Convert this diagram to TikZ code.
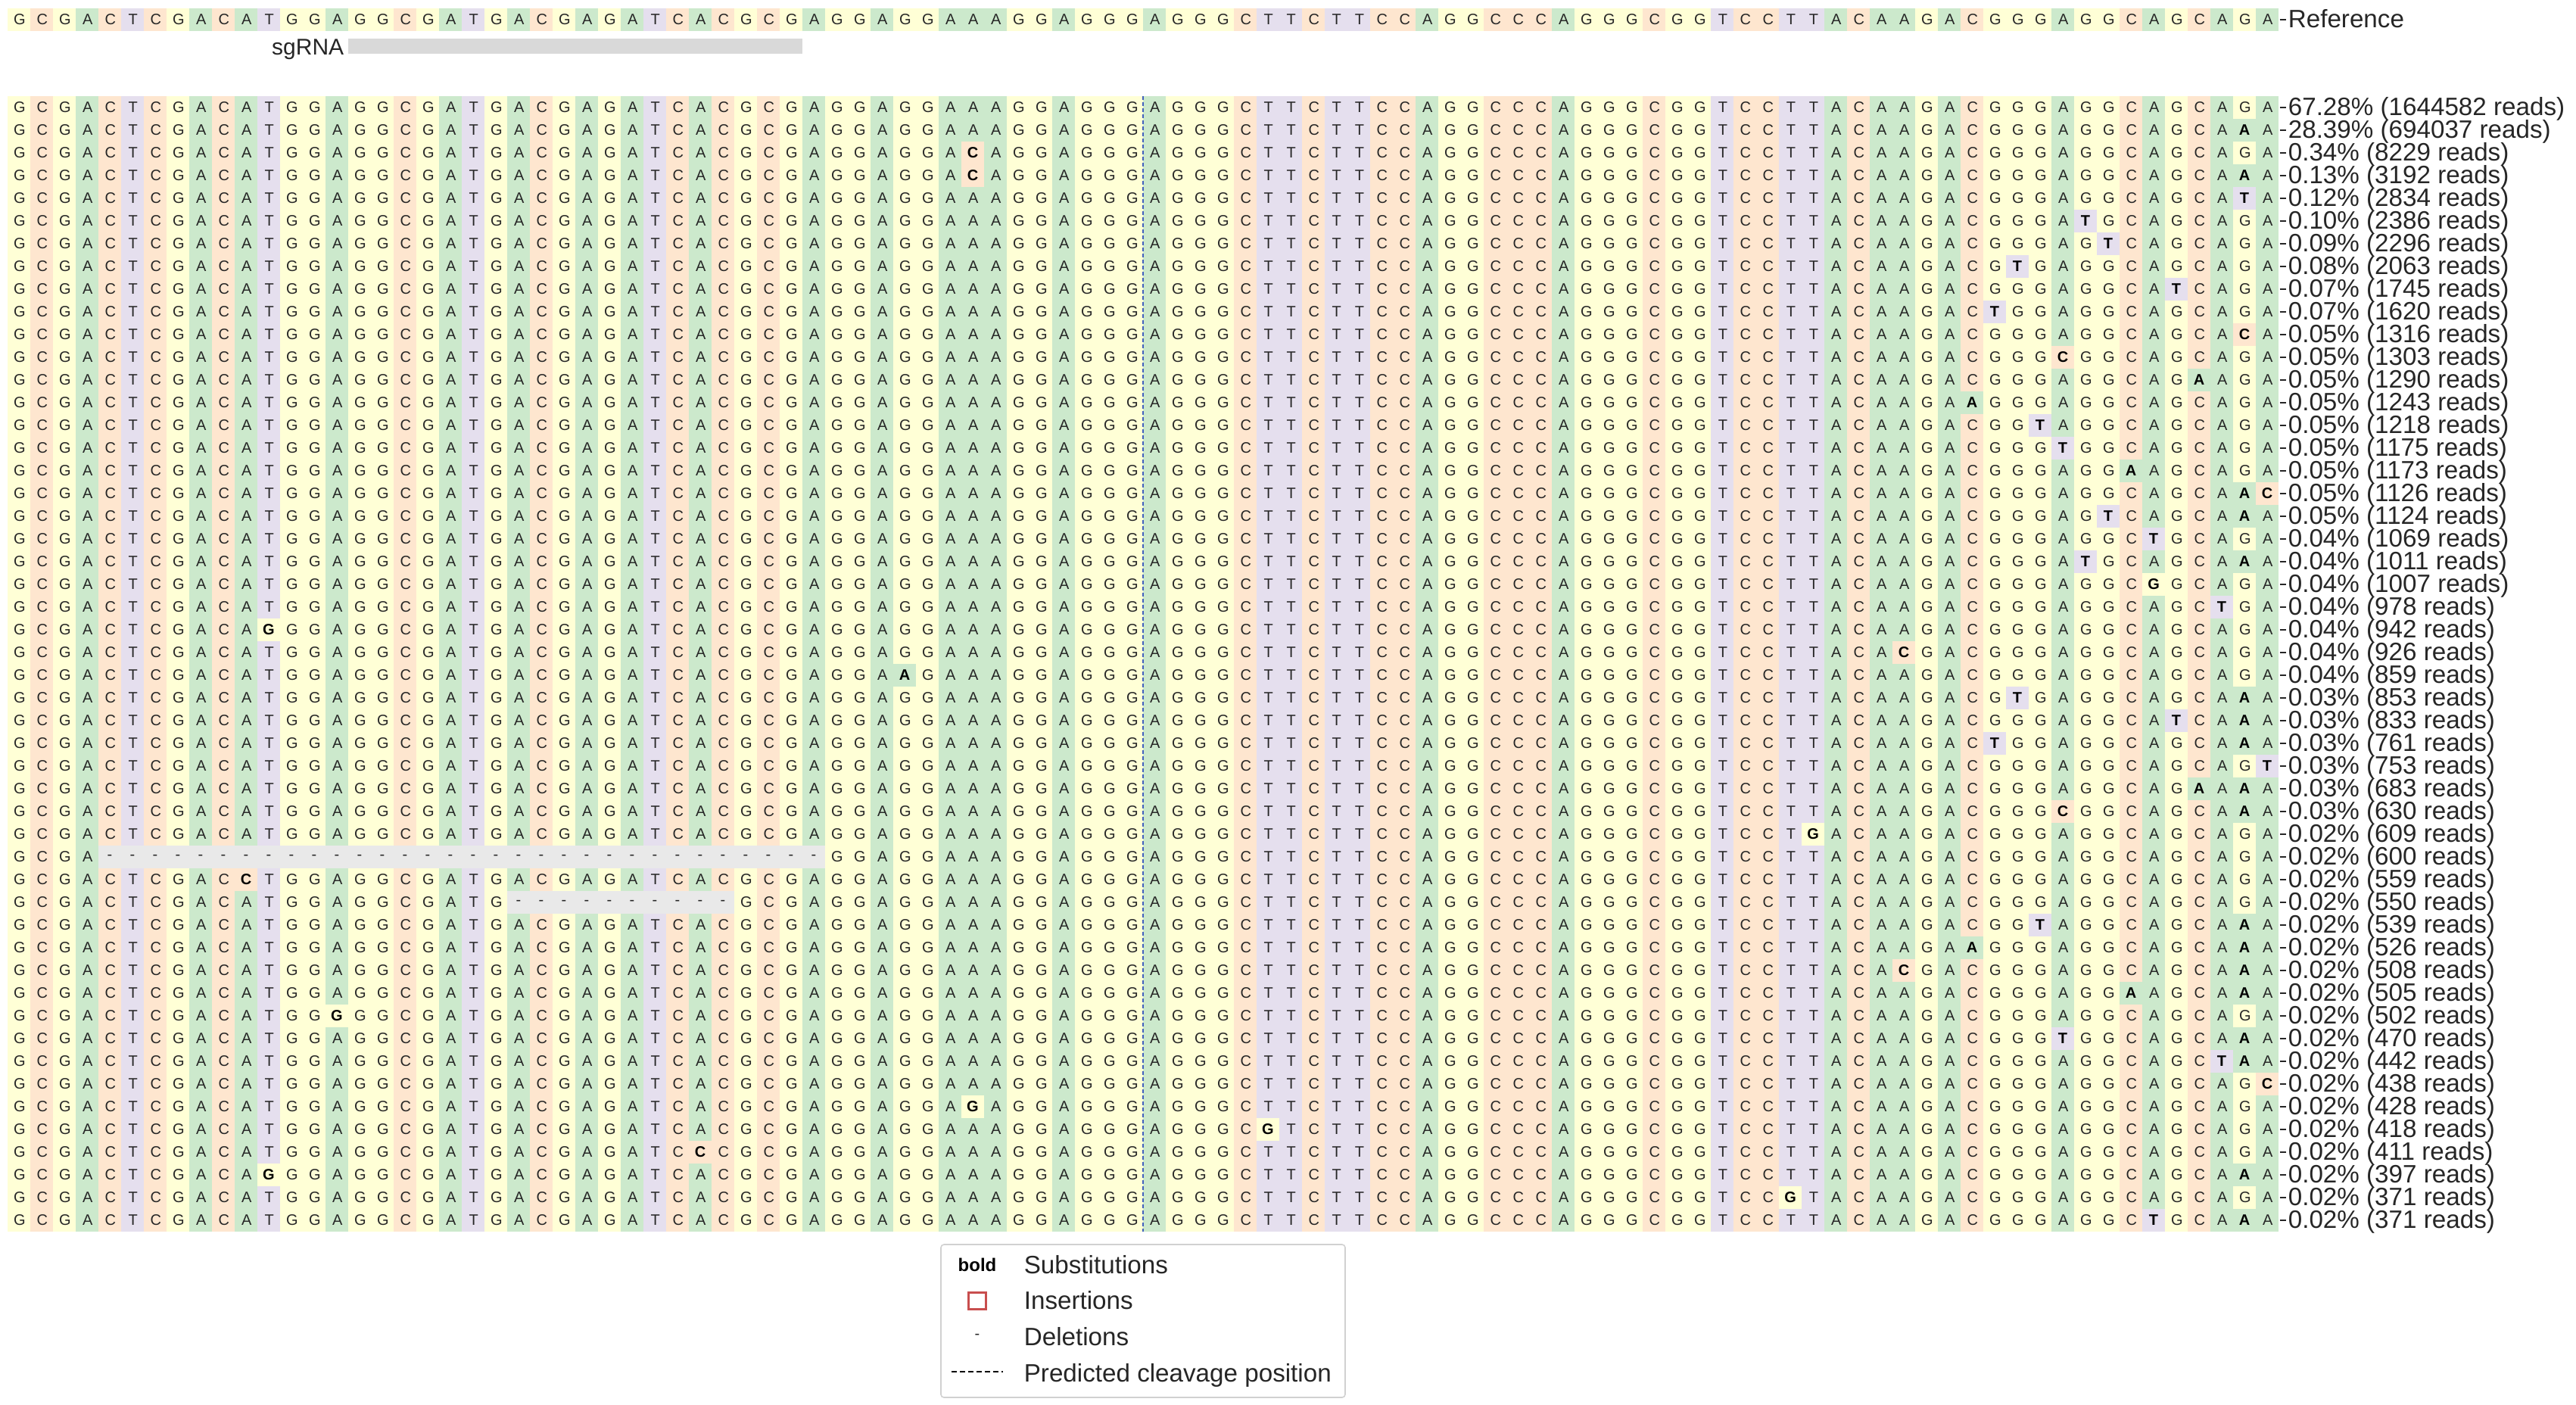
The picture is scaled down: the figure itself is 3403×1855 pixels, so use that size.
\documentclass[tikz,border=0pt]{standalone}
\usepackage{fontspec}
\setmainfont{Liberation Sans}
\usepackage{tikz}

\definecolor{ntA}{RGB}{204,233,204}
\definecolor{ntC}{RGB}{254,230,207}
\definecolor{ntG}{RGB}{255,255,214}
\definecolor{ntT}{RGB}{229,223,238}
\definecolor{ntgap}{RGB}{233,233,233}
\definecolor{sgbar}{RGB}{217,217,217}
\definecolor{cutblue}{RGB}{66,96,190}
\definecolor{insred}{RGB}{200,78,78}
\definecolor{ink}{RGB}{38,38,38}

\newcommand{\ntfont}{\fontsize{5pt}{6pt}\selectfont}
\newcommand{\labfont}{\fontsize{8.3pt}{10pt}\selectfont}
\newcommand{\ntcell}[1]{\makebox[7.5pt][c]{#1}}
\def\ntspread#1{\ifx#1\relax\else\ntcell{#1}\expandafter\ntspread\fi}

\def\refseq{G,C,G,A,C,T,C,G,A,C,A,T,G,G,A,G,G,C,G,A,T,G,A,C,G,A,G,A,T,C,A,C,G,C,G,A,G,G,A,G,G,A,A,A,G,G,A,G,G,G,A,G,G,G,C,T,T,C,T,T,C,C,A,G,G,C,C,C,A,G,G,G,C,G,G,T,C,C,T,T,A,C,A,A,G,A,C,G,G,G,A,G,G,C,A,G,C,A,G,A}
\def\refstr{}
\foreach \nt in \refseq {\xdef\refstr{\refstr\nt}}

\begin{document}
\begin{tikzpicture}[x=0.25pt, y=-0.25pt,
  seqrow/.style={anchor = west, inner sep=0pt, font=\ntfont, text=ink},
  ntletter/.style={inner sep=0pt, font=\ntfont, text=ink},
  subst/.style={inner sep=0pt, font=\ntfont\bfseries, text=black},
  tickmark/.style={ink, line width=0.5pt},
  readlabel/.style={anchor = base west, inner sep=0pt, font=\labfont, text=ink},
  cutline/.style={cutblue, line width=0.6pt, dash pattern=on 1.25pt off 0.75pt},
  legendbox/.style={draw=black!18, fill=white, line width=0.4pt, rounded corners=1pt}]
\useasboundingbox (0,0) rectangle (3403,1855);

% colour columns
\foreach \nt [count=\i] in \refseq {
  \fill[fill=nt\nt] ({30*\i-20},11) rectangle ++(30,30);
  \fill[fill=nt\nt] ({30*\i-20},127) rectangle ++(30,1500);
}

% sgRNA
\fill[sgbar] (460,51) rectangle (1060,71);
\node[anchor = base east, inner sep=0pt, font=\fontsize{7.5pt}{9pt}\selectfont, text=ink] (sglabel) at (455,72) {sgRNA};

% sequences
\node[seqrow] (ref) at (10,26) {\expandafter\ntspread\refstr\relax};
\draw[tickmark] (ref.east) -- ++(8,0);
\node[readlabel] (reflabel) at (3022,36) {Reference};
\foreach \r/\pct/\reads in {1/67.28/1644582, 2/28.39/694037, 3/0.34/8229, 4/0.13/3192,
    5/0.12/2834, 6/0.10/2386, 7/0.09/2296, 8/0.08/2063, 9/0.07/1745, 10/0.07/1620,
    11/0.05/1316, 12/0.05/1303, 13/0.05/1290, 14/0.05/1243, 15/0.05/1218, 16/0.05/1175,
    17/0.05/1173, 18/0.05/1126, 19/0.05/1124, 20/0.04/1069, 21/0.04/1011, 22/0.04/1007,
    23/0.04/978, 24/0.04/942, 25/0.04/926, 26/0.04/859, 27/0.03/853, 28/0.03/833,
    29/0.03/761, 30/0.03/753, 31/0.03/683, 32/0.03/630, 33/0.02/609, 34/0.02/600,
    35/0.02/559, 36/0.02/550, 37/0.02/539, 38/0.02/526, 39/0.02/508, 40/0.02/505,
    41/0.02/502, 42/0.02/470, 43/0.02/442, 44/0.02/438, 45/0.02/428, 46/0.02/418,
    47/0.02/411, 48/0.02/397, 49/0.02/371, 50/0.02/371} {
  \node[seqrow] (row\r) at (10,{112+30*\r}) {\expandafter\ntspread\refstr\relax};
  \draw[tickmark] (row\r.east) -- ++(8,0);
  \node[readlabel] (lab\r) at (3022,{122+30*\r}) {\pct\% (\reads{} reads)};
}

% deleted bases
\fill[ntgap] (130,1117) rectangle (1090,1147);
\fill[ntgap] (670,1177) rectangle (970,1207);
\foreach \p in {5,...,36}
  \node[ntletter] (del34-\p) at ({30*\p-5},1132) {-};
\foreach \p in {23,...,32}
  \node[ntletter] (del36-\p) at ({30*\p-5},1192) {-};

% substitutions
\foreach \r/\p/\nt in {2/99/A, 3/43/C, 4/43/C, 4/99/A, 5/99/T, 6/92/T, 7/93/T, 8/89/T,
    9/96/T, 10/88/T, 11/99/C, 12/91/C, 13/97/A, 14/87/A, 15/90/T, 16/91/T, 17/94/A,
    18/99/A, 18/100/C, 19/93/T, 19/99/A, 20/95/T, 21/92/T, 21/99/A, 22/95/G, 23/98/T,
    24/12/G, 25/84/C, 26/40/A, 27/89/T, 27/99/A, 28/96/T, 28/99/A, 29/88/T, 29/99/A,
    30/100/T, 31/97/A, 31/99/A, 32/91/C, 32/99/A, 33/80/G, 35/11/C, 37/90/T, 37/99/A,
    38/87/A, 38/99/A, 39/84/C, 39/99/A, 40/94/A, 40/99/A, 41/15/G, 42/91/T, 42/99/A,
    43/98/T, 43/99/A, 44/100/C, 45/43/G, 46/56/G, 47/31/C, 48/12/G, 48/99/A, 49/79/G,
    50/95/T, 50/99/A} {
  \fill[fill=nt\nt] ({30*\p-20},{97+30*\r}) rectangle ++(30,30);
  \node[subst] (sub\r-\p) at ({30*\p-5},{112+30*\r}) {\nt};
}

% cleavage position
\draw[cutline] (1510,127) -- (1510,1627);

% legend
\draw[legendbox] (1243,1644) rectangle (1777,1846);
\node[inner sep=0pt, font=\fontsize{6pt}{7pt}\selectfont\bfseries, text=black] (lgbold) at (1291,1671) {bold};
\node[readlabel] (lgsub) at (1352,1682) {Substitutions};
\draw[insred, line width=0.75pt] (1279,1707) rectangle (1302,1729);
\node[readlabel] (lgins) at (1352,1729) {Insertions};
\node[ntletter] (lgdash) at (1291,1765) {-};
\node[readlabel] (lgdel) at (1352,1777) {Deletions};
\draw[black, line width=0.4pt, dash pattern=on 1.75pt off 1pt] (1257,1812) -- (1325,1812);
\node[readlabel] (lgcut) at (1352,1825) {Predicted cleavage position};
\end{tikzpicture}
\end{document}
